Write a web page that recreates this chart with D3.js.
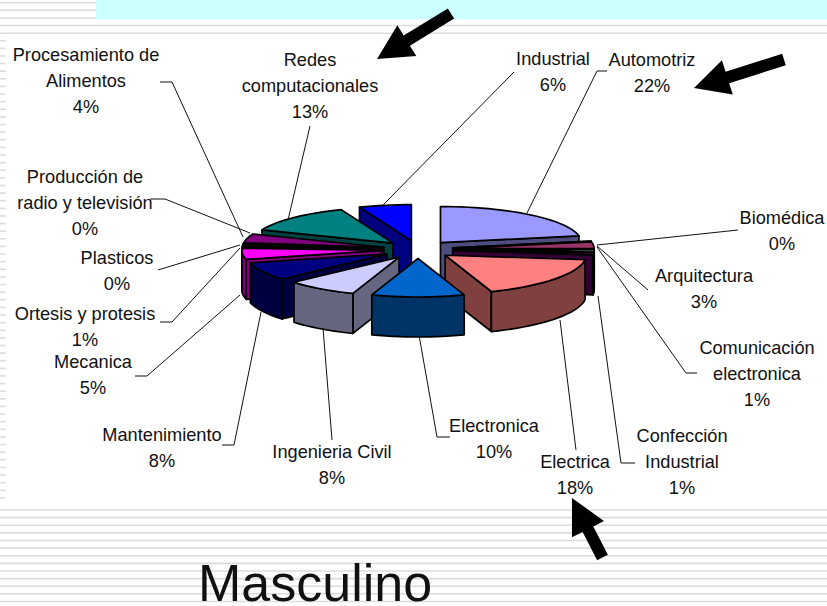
<!DOCTYPE html>
<html>
<head>
<meta charset="utf-8">
<script src="https://cdn.jsdelivr.net/npm/d3@7"></script>
<style>
html, body { margin: 0; padding: 0; background: #fff; overflow: hidden; }
svg { display: block; }
text { font-family: "Liberation Sans", Arial, sans-serif; fill: #111; }
</style>
</head>
<body>
<div id="graph1"></div>
<script>
// data, in the order of the pie (clockwise from 12 o'clock)
var categories = [
    ["Automotriz"], ["Biomédica"], ["Arquitectura"], ["Comunicación", "electronica"],
    ["Confección", "Industrial"], ["Electrica"], ["Electronica"], ["Ingenieria Civil"],
    ["Mantenimiento"], ["Mecanica"], ["Ortesis y protesis"], ["Plasticos"],
    ["Producción de", "radio y televisión"], ["Procesamiento de", "Alimentos"],
    ["Redes", "computacionales"], ["Industrial"]
];
var values = [22, 0, 3, 1, 1, 18, 10, 8, 8, 5, 1, 0, 0, 4, 13, 6];
var colors = ["#9999FF", "#993366", "#993366", "#CCFFFF", "#660066", "#FF8080", "#0066CC", "#CCCCFF",
    "#000080", "#FF00FF", "#1a1a1a", "#1a1a1a", "#800080", "#800080", "#008080", "#0000FF"];

// label centre x and first line y, same order
var labelX = [652, 782, 704, 757, 682, 575, 494, 332, 162, 93, 85, 117, 85, 86, 310, 553];
var labelY = [60, 218, 276, 348, 436, 462, 426, 452, 435, 362, 314, 258, 177, 55, 60, 59];
var leaders = [
    [[607, 71], [597, 71], [527, 213]],
    [[738, 230], [597, 245]],
    [[648, 290], [597, 246]],
    [[697, 373], [686, 373], [597, 247]],
    [[635, 463], [621, 463], [598, 296]],
    [[576, 450], [560, 320]],
    [[450, 437], [437, 437], [419, 335]],
    [[332, 440], [323, 328]],
    [[222, 445], [234, 445], [261, 312]],
    [[135, 376], [147, 376], [240, 295]],
    [[160, 322], [172, 322], [240, 248]],
    [[158, 270], [240, 245]],
    [[150, 199], [165, 199], [250, 233]],
    [[160, 82], [172, 82], [243, 237]],
    [[310, 126], [288, 220]],
    [[514, 72], [383, 205]]
];

// [tail, tip]
var arrows = [
    [[451, 13.5], [377, 59]],
    [[784, 59.5], [694, 88]],
    [[602.5, 557.5], [572, 498]]
];

var width = 827, height = 606;
var cx = 418, cy = 249.5, rx = 141, ry = 36, depth = 40, explode = 0.25;
var perspective = 0.07; // very front of the pie comes out a little bigger

var svg = d3.select("#graph1").append("svg")
    .attr("width", width)
    .attr("height", height);

// slide background: grey rules and the cyan title band
var ruleGap = 7.62;
var topRules = d3.range(2.7, 36, ruleGap);
var sideRules = d3.range(40.7, 505, ruleGap);
var bottomRules = d3.range(510, 606, ruleGap);
var rules = svg.append("g").attr("stroke", "#dcdcdc").attr("stroke-width", 1.6);
topRules.concat(bottomRules).forEach(function(y) {
    rules.append("line").attr("x1", 0).attr("x2", width).attr("y1", y).attr("y2", y);
});
sideRules.forEach(function(y) {
    rules.append("line").attr("x1", 0).attr("x2", 6).attr("y1", y).attr("y2", y);
});
svg.append("rect").attr("x", 96).attr("y", 0).attr("width", width - 96).attr("height", 19.5).attr("fill", "#CCFFFF");

// projected pie: scales go from unit circle to the tilted ellipse
var xScale = d3.scaleLinear().domain([-1, 1]).range([cx - rx, cx + rx]);
var yScale = d3.scaleLinear().domain([-1, 1]).range([cy - ry, cy + ry]);

var pie = d3.pie().sort(null).value(function(d) { return d; });
var slices = pie(values).map(function(d, i) {
    d.index = i;
    d.mid = (d.startAngle + d.endAngle) / 2;
    d.ox = explode * Math.sin(d.mid);
    d.oy = -explode * Math.cos(d.mid);
    return d;
});

function pt(d, a, r, z) {
    var s = r * (1 + perspective * Math.pow(Math.max(0, -Math.cos(a)), 3));
    return [xScale(d.ox + s * Math.sin(a)), yScale(d.oy - s * Math.cos(a)) + z];
}

function arcPoints(d, a0, a1, z) {
    var n = Math.max(1, Math.ceil((a1 - a0) / 0.05));
    return d3.range(n + 1).map(function(k) {
        return pt(d, a0 + (a1 - a0) * k / n, 1, z);
    });
}

var line = d3.line();
var pieG = svg.append("g")
    .attr("stroke", "#000")
    .attr("stroke-width", 1.7)
    .attr("stroke-linejoin", "round");

// paint from the back of the pie to the front
slices.slice().sort(function(a, b) { return Math.cos(b.mid) - Math.cos(a.mid); }).forEach(function(d) {
    var c = d3.rgb(colors[d.index]);
    var wall = d3.rgb(c.r / 2, c.g / 2, c.b / 2).formatHex();
    var g = pieG.append("g");

    function cutWall(a) {
        g.append("path").attr("fill", wall).attr("d", line([
            pt(d, a, 0, 0), pt(d, a, 1, 0), pt(d, a, 1, depth), pt(d, a, 0, depth)
        ]) + "Z");
    }
    if (Math.sin(d.startAngle) < 0) cutWall(d.startAngle);
    if (Math.sin(d.endAngle) > 0) cutWall(d.endAngle);

    // outer wall, only the front half shows
    var a0 = Math.max(d.startAngle, Math.PI / 2), a1 = Math.min(d.endAngle, Math.PI * 1.5);
    if (a1 > a0) {
        g.append("path").attr("fill", wall).attr("d", line(
            arcPoints(d, a0, a1, 0).concat(arcPoints(d, a0, a1, depth).reverse())
        ) + "Z");
    }

    g.append("path").attr("fill", colors[d.index]).attr("d", line(
        [pt(d, 0, 0, 0)].concat(arcPoints(d, d.startAngle, d.endAngle, 0))
    ) + "Z");
});

// leader lines
svg.append("g").selectAll("path")
    .data(leaders)
    .enter().append("path")
    .attr("fill", "none")
    .attr("stroke", "#111")
    .attr("stroke-width", 1)
    .attr("d", function(d) { return line(d); });

// labels
var fontSize = 18.2, lineGap = 26;
categories.forEach(function(name, i) {
    var t = svg.append("text")
        .attr("text-anchor", "middle")
        .attr("font-size", fontSize);
    name.concat([values[i] + "%"]).forEach(function(s, k) {
        t.append("tspan")
            .attr("x", labelX[i])
            .attr("y", labelY[i] + k * lineGap + 6)
            .text(s);
    });
});

// arrows as polygons from tail and tip
function arrowPoints(a) {
    var dx = a[1][0] - a[0][0], dy = a[1][1] - a[0][1];
    var len = Math.sqrt(dx * dx + dy * dy), ux = dx / len, uy = dy / len;
    var head = 35, hw = 18, sw = 6;
    var bx = a[1][0] - ux * head, by = a[1][1] - uy * head;
    return [
        [a[0][0] - uy * sw, a[0][1] + ux * sw],
        [bx - uy * sw, by + ux * sw],
        [bx - uy * hw, by + ux * hw],
        a[1],
        [bx + uy * hw, by - ux * hw],
        [bx + uy * sw, by - ux * sw],
        [a[0][0] + uy * sw, a[0][1] - ux * sw]
    ];
}
svg.append("g").selectAll("path")
    .data(arrows)
    .enter().append("path")
    .attr("fill", "#000")
    .attr("d", function(d) { return line(arrowPoints(d)) + "Z"; });

svg.append("text")
    .attr("x", 198)
    .attr("y", 601)
    .attr("font-size", 52)
    .text("Masculino");
</script>
</body>
</html>
